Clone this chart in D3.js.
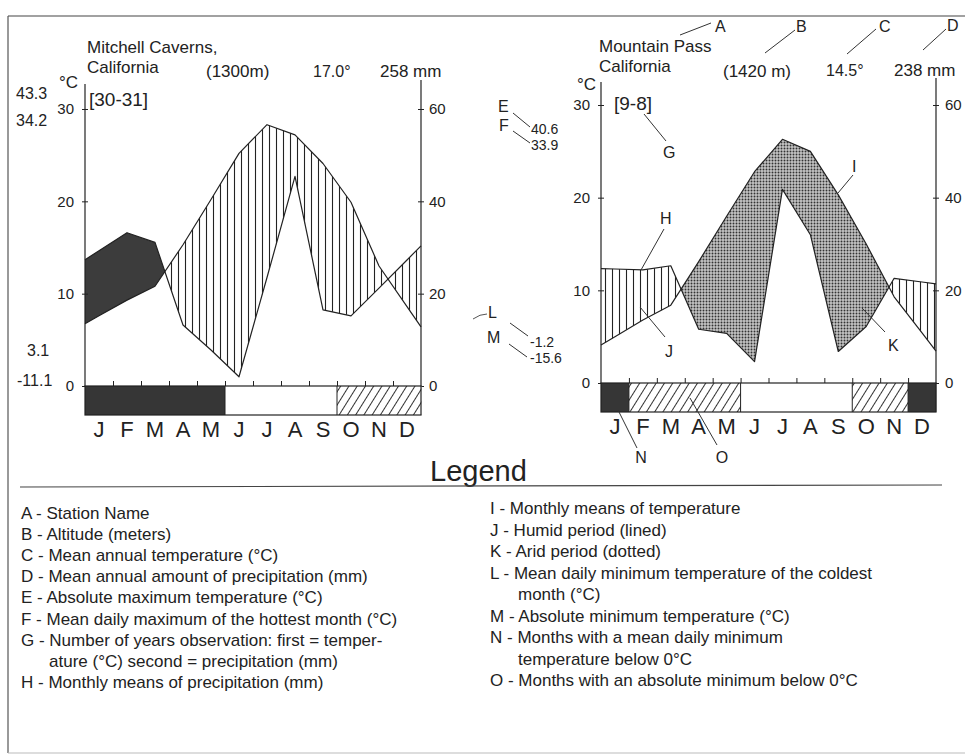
<!DOCTYPE html>
<html><head><meta charset="utf-8">
<script src="https://cdn.jsdelivr.net/npm/d3@7"></script>
<style>
html,body{margin:0;padding:0;background:#fff;}
svg text{font-family:"Liberation Sans",Arial,sans-serif;fill:#222;}
</style></head>
<body>
<svg id="chart" width="965" height="756"></svg>
<script>
// ---------- data ----------
const months = ["J","F","M","A","M","J","J","A","S","O","N","D"];
const tempTicks = [0, 10, 20, 30];
const precipTicks = [0, 20, 40, 60];

// Mitchell Caverns, California
const mcTemp   = [7.6, 9.3, 10.8, 15.3, 20.2, 25.2, 28.3, 27.2, 24.1, 19.9, 13.0, 8.6];
const mcPrecip = [29.3, 33.2, 31.1, 13.2, 7.8, 2.0, 23.5, 45.4, 16.5, 15.2, 21.2, 27.3];
const mcFrost  = ["d","d","d","d","d","n","n","n","n","h","h","h"];
const mcDarkMonths = 4;   // humid area shaded solid in the first months

// Mountain Pass, California
const mpTemp   = [5.0, 6.8, 8.4, 13.1, 18.0, 22.8, 26.3, 25.0, 20.3, 15.0, 9.3, 5.4];
const mpPrecip = [24.6, 24.4, 25.3, 11.6, 10.7, 4.6, 41.8, 32.0, 6.8, 12.2, 22.6, 21.8];
const mpFrost  = ["d","h","h","h","h","n","n","n","n","h","h","d"];
const mpDarkMonths = 0;

const legendLeft = [
  ["A - Station Name", 0],
  ["B - Altitude (meters)", 0],
  ["C - Mean annual temperature (°C)", 0],
  ["D - Mean annual amount of precipitation (mm)", 0],
  ["E - Absolute maximum temperature (°C)", 0],
  ["F - Mean daily maximum of the hottest month (°C)", 0],
  ["G - Number of years observation: first = temper-", 0],
  ["ature  (°C) second = precipitation (mm)", 1],
  ["H - Monthly means of  precipitation (mm)", 0]
];
const legendRight = [
  ["I - Monthly means of temperature", 0],
  ["J - Humid period (lined)", 0],
  ["K - Arid period (dotted)", 0],
  ["L - Mean daily minimum temperature of the coldest", 0],
  ["month (°C)", 1],
  ["M - Absolute minimum temperature (°C)", 0],
  ["N - Months with a mean daily minimum", 0],
  ["temperature below 0°C", 1],
  ["O - Months with an absolute minimum below 0°C", 0]
];

// ---------- drawing ----------
const svg = d3.select("#chart");
const defs = svg.append("defs");
const ink = "#222";

function vlines(id, w){
  const p = defs.append("pattern").attr("id", id).attr("patternUnits","userSpaceOnUse")
    .attr("width", w).attr("height", 10);
  p.append("rect").attr("width", w).attr("height", 10).attr("fill", "#fff");
  p.append("line").attr("x1", w/2).attr("x2", w/2).attr("y1", 0).attr("y2", 10)
    .attr("stroke", "#222").attr("stroke-width", 1.1);
}
vlines("vl1", 7);
vlines("vl2", 7);
const dg = defs.append("pattern").attr("id","diag").attr("patternUnits","userSpaceOnUse")
  .attr("width", 7).attr("height", 10).attr("patternTransform","rotate(32)");
dg.append("rect").attr("width",7).attr("height",10).attr("fill","#fff");
dg.append("line").attr("x1",3.5).attr("x2",3.5).attr("y1",0).attr("y2",10)
  .attr("stroke","#333").attr("stroke-width",1);
const dots = defs.append("pattern").attr("id","dots").attr("patternUnits","userSpaceOnUse")
  .attr("width",3).attr("height",3);
dots.append("rect").attr("width",3).attr("height",3).attr("fill","#c4c4c4");
dots.append("circle").attr("cx",1.5).attr("cy",1.5).attr("r",0.95).attr("fill","#333");

// outer frame
svg.append("line").attr("x1",8).attr("x2",965).attr("y1",16).attr("y2",16).attr("stroke","#444").attr("stroke-width",1.2);
svg.append("line").attr("x1",8).attr("x2",8).attr("y1",16).attr("y2",753).attr("stroke","#555").attr("stroke-width",1.2);
svg.append("line").attr("x1",8).attr("x2",965).attr("y1",753).attr("y2",753).attr("stroke","#bbb").attr("stroke-width",1);

function diagram(cfg){
  const g = svg.append("g");
  const x = d3.scaleLinear().domain([0,12]).range([cfg.x0, cfg.x1]);
  const yT = d3.scaleLinear().domain([0,30]).range([cfg.y0, cfg.y30]);
  const yP = d3.scaleLinear().domain([0,60]).range([cfg.y0, cfg.y30]);

  // series at month centres, continued to the axes along the end segments
  function pts(vals){
    const p = vals.map((v,i)=>({m:i+0.5, v:v}));
    const n = vals.length;
    p.unshift({m:0, v: vals[0] - (vals[1]-vals[0])/2});
    p.push({m:12, v: vals[n-1] + (vals[n-1]-vals[n-2])/2});
    return p;
  }
  const tp = pts(cfg.temp), pp = pts(cfg.precip);
  const top = cfg.y30 - 60, bot = cfg.y0;
  const id = cfg.id;
  defs.append("clipPath").attr("id", id+"aboveT").append("path")
    .attr("d", d3.area().x(d=>x(d.m)).y0(d=>yT(d.v)).y1(top)(tp));
  defs.append("clipPath").attr("id", id+"belowT").append("path")
    .attr("d", d3.area().x(d=>x(d.m)).y0(d=>yT(d.v)).y1(bot)(tp));

  const humidArea = d3.area().x(d=>x(d.m)).y0(bot).y1(d=>yP(d.v))(pp);
  g.append("path").attr("d", humidArea)
    .attr("fill", "url(#vl2)").attr("clip-path", `url(#${id}aboveT)`);
  if (cfg.dark > 0){
    defs.append("clipPath").attr("id", id+"dark").append("rect")
      .attr("x", x(0)).attr("y", top).attr("width", x(cfg.dark)-x(0)).attr("height", bot-top);
    g.append("g").attr("clip-path", `url(#${id}dark)`)
      .append("path").attr("d", humidArea)
      .attr("fill", "#3c3c3c").attr("clip-path", `url(#${id}aboveT)`);
  }
  g.append("path").attr("d", d3.area().x(d=>x(d.m)).y0(top).y1(d=>yP(d.v))(pp))
    .attr("fill", cfg.aridFill).attr("clip-path", `url(#${id}belowT)`);

  const line = d3.line().x(d=>x(d.m));
  g.append("path").attr("d", line.y(d=>yT(d.v))(tp)).attr("fill","none")
    .attr("stroke", ink).attr("stroke-width",1.2).attr("stroke-linejoin","round");
  g.append("path").attr("d", line.y(d=>yP(d.v))(pp)).attr("fill","none")
    .attr("stroke", ink).attr("stroke-width",1.2).attr("stroke-linejoin","round");

  const la = g.append("g").attr("transform",`translate(${cfg.x0},0)`)
    .call(d3.axisLeft(yT).tickValues(tempTicks).tickSize(3).tickPadding(8));
  la.select(".domain").remove();
  la.selectAll(".tick line").attr("x1",3).attr("stroke",ink);
  la.selectAll(".tick text").attr("font-size",15).attr("fill",ink)
    .attr("font-family","Liberation Sans, Arial, sans-serif");
  const ra = g.append("g").attr("transform",`translate(${cfg.x1},0)`)
    .call(d3.axisRight(yP).tickValues(precipTicks).tickSize(3).tickPadding(cfg.rpad));
  ra.select(".domain").remove();
  ra.selectAll(".tick line").attr("x1",-3).attr("stroke",ink);
  ra.selectAll(".tick text").attr("font-size",15).attr("fill",ink)
    .attr("font-family","Liberation Sans, Arial, sans-serif");
  g.append("line").attr("x1",cfg.x0).attr("x2",cfg.x0).attr("y1",cfg.axTopL).attr("y2",cfg.y0)
    .attr("stroke",ink).attr("stroke-width",1.2);
  g.append("line").attr("x1",cfg.x1).attr("x2",cfg.x1).attr("y1",cfg.axTopR).attr("y2",cfg.y0)
    .attr("stroke",ink).attr("stroke-width",1.2);

  const bh = 29;
  g.selectAll("rect.frost").data(cfg.frost).join("rect").attr("class","frost")
    .attr("x",(d,i)=>x(i)).attr("width",x(1)-x(0)+0.3).attr("y",cfg.y0).attr("height",bh)
    .attr("fill", d=> d==="d" ? "#363636" : d==="h" ? "url(#diag)" : "#fff");
  g.append("rect").attr("x",cfg.x0).attr("y",cfg.y0).attr("width",cfg.x1-cfg.x0).attr("height",bh)
    .attr("fill","none").attr("stroke",ink).attr("stroke-width",1.2);
  cfg.frost.forEach((d,i)=>{
    if(i>0 && d!==cfg.frost[i-1]){
      g.append("line").attr("x1",x(i)).attr("x2",x(i)).attr("y1",cfg.y0).attr("y2",cfg.y0+bh)
        .attr("stroke",ink).attr("stroke-width",1);
    }
  });
  const ba = g.append("g").attr("transform",`translate(0,${cfg.y0})`)
    .call(d3.axisTop(x).tickValues(d3.range(1,12)).tickSize(5).tickFormat(""));
  ba.select(".domain").remove();
  ba.selectAll(".tick line").attr("stroke",ink);
  g.selectAll("text.mon").data(months).join("text").attr("class","mon")
    .attr("x",(d,i)=>x(i+0.5)).attr("y",cfg.y0+51).attr("text-anchor","middle")
    .attr("font-size",22).text(d=>d);
}

diagram({id:"mc", x0:85, x1:421, y0:386, y30:109, axTopL:84, axTopR:80, rpad:5,
  temp:mcTemp, precip:mcPrecip, frost:mcFrost, dark:mcDarkMonths, aridFill:"url(#vl1)"});
diagram({id:"mp", x0:601, x1:936, y0:383, y30:105, axTopL:82, axTopR:78, rpad:6,
  temp:mpTemp, precip:mpPrecip, frost:mpFrost, dark:mpDarkMonths, aridFill:"url(#dots)"});

// ---------- text annotations ----------
function t(x, y, s, size, anchor){
  svg.append("text").attr("x",x).attr("y",y).attr("font-size",size||17)
    .attr("text-anchor",anchor||"start").text(s);
}
function ln(x1,y1,x2,y2){
  svg.append("line").attr("x1",x1).attr("y1",y1).attr("x2",x2).attr("y2",y2)
    .attr("stroke","#333").attr("stroke-width",1);
}
t(87, 53, "Mitchell Caverns,");
t(87, 73, "California");
t(206, 77, "(1300m)");
t(313, 77, "17.0°", 16);
t(380, 77, "258 mm");
t(59, 88, "°C", 17);
t(89, 106, "[30-31]", 19);
t(16, 99, "43.3", 16);
t(16, 126, "34.2", 16);
t(27, 356, "3.1", 16);
t(17, 386, "-11.1", 16);

t(599, 52, "Mountain Pass");
t(599, 72, "California");
t(723, 77, "(1420 m)");
t(826, 76, "14.5°", 16);
t(894, 76, "238 mm");
t(715, 32, "A", 16); ln(680,35,711,23);
t(796, 32, "B", 16); ln(765,53,795,30);
t(879, 32, "C", 16); ln(847,54,876,29);
t(947, 31, "D", 16); ln(923,50,946,29);
t(577, 90, "°C", 17);
t(614, 110, "[9-8]", 19);
t(663, 158, "G", 16); ln(644,114,666,141);
t(498, 112, "E", 16); ln(513,113,530,127);
t(499, 131, "F", 16); ln(513,131,530,143);
t(531, 134, "40.6", 14);
t(531, 150, "33.9", 14);
t(852, 172, "I", 16); ln(838,193,853,175);
t(660, 224, "H", 16); ln(664,229,641,270);
t(665, 357, "J", 16); ln(640,307,665,337);
t(888, 351, "K", 16); ln(862,308,885,332);
t(488, 318, "L", 16);
t(487, 343, "M", 16);
t(530, 347, "-1.2", 14);
t(530, 363, "-15.6", 14);
ln(510,323,528,336); ln(509,344,527,357);
svg.append("path").attr("d","M473,319 Q480,314 487,314").attr("fill","none").attr("stroke","#555").attr("stroke-width",1);
t(641, 463, "N", 16, "middle"); ln(618,410,637,448);
t(722, 463, "O", 16, "middle"); ln(690,398,717,445);

t(430, 481, "Legend", 29);
svg.append("line").attr("x1",20).attr("x2",942).attr("y1",487).attr("y2",485)
  .attr("stroke","#444").attr("stroke-width",1.2);
legendLeft.forEach((d,i)=>{ t(d[1]?49:21, 519 + i*21.1, d[0]); });
legendRight.forEach((d,i)=>{ t(d[1]?518:490, 514 + i*21.5, d[0]); });
</script>
</body></html>
